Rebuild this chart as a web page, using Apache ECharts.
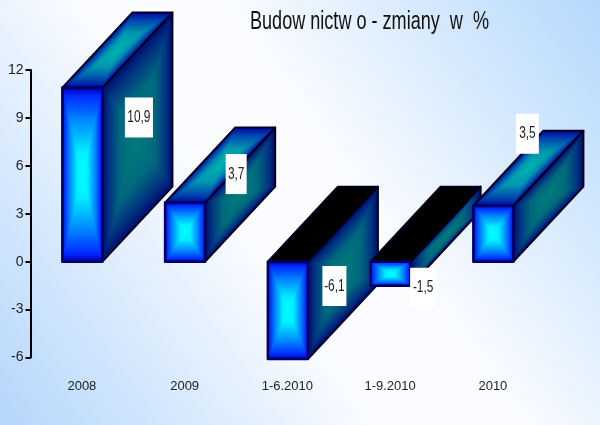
<!DOCTYPE html>
<html><head><meta charset="utf-8">
<style>html,body{margin:0;padding:0;background:#fff}#c{width:600px;height:425px}</style>
<script src="https://cdn.jsdelivr.net/npm/echarts@6/dist/echarts.min.js"></script>
</head><body><div id="c"></div>
<script>
const categories = ['2008','2009','1-6.2010','1-9.2010','2010'];
const values = [10.9,3.7,-6.1,-1.5,3.5];
const yTicks = {min:-6,max:12,interval:3};
const titleText = 'Budow nictw o - zmiany  w  %';

const FONT = '"Liberation Sans",sans-serif';
const DX = 70, DY = 75, STEPS = 44, TEXT_SQUEEZE = 0.7;
const labelOffsets = [[37,30],[31.5,-28.5],[27,-73],[13,2],[14.5,-72]];
const labelPadX = [3.5,3.2,2.5,4,4.5];

const frontStops = [[0,[0,0,175]],[0.08,[0,40,255]],[0.35,[0,130,255]],[0.75,[0,240,255]],[1,[0,255,255]]];
const sideStops  = [[0,[0,15,110]],[0.2,[0,55,130]],[0.5,[0,105,125]],[1,[0,125,125]]];
const topStops   = [[0,[0,10,160]],[0.2,[0,70,175]],[0.55,[0,150,175]],[1,[0,180,175]]];

function ramp(stops,t){
  for(let i=1;i<stops.length;i++){
    if(t<=stops[i][0]){
      const a=stops[i-1],b=stops[i],u=(t-a[0])/(b[0]-a[0]);
      return 'rgb('+a[1].map((c,k)=>Math.round(c+(b[1][k]-c)*u)).join(',')+')';
    }
  }
  return 'rgb('+stops[stops.length-1][1].join(',')+')';
}
function face(pts,stops,stroke,lw){
  const cx=pts.reduce((s,p)=>s+p[0],0)/pts.length, cy=pts.reduce((s,p)=>s+p[1],0)/pts.length;
  const out=[];
  if(stops){
    for(let i=0;i<STEPS;i++){
      const t=i/(STEPS-1), k=1-t*0.98;
      out.push({type:'polygon',silent:true,
        shape:{points:pts.map(p=>[cx+(p[0]-cx)*k,cy+(p[1]-cy)*k])},
        style:{fill:ramp(stops,t)}});
    }
  }else{
    out.push({type:'polygon',silent:true,shape:{points:pts},style:{fill:'#000'}});
  }
  out.push({type:'polygon',silent:true,shape:{points:pts},style:{fill:'none',stroke,lineWidth:lw,lineJoin:'round'}});
  return out;
}
function renderBar(params,api){
  const i=api.value(0), v=api.value(1);
  const a=api.coord([i,0]), b=api.coord([i,v]);
  const w=api.size([1,0])[0]*0.39;
  const L=a[0]-w/2+0.5, R=a[0]+w/2+0.5;
  const top=Math.min(a[1],b[1]), bot=Math.max(a[1],b[1]);
  const children=[].concat(
    face([[R,top],[R+DX,top-DY],[R+DX,bot-DY],[R,bot]],sideStops,'#00001e',2),
    face([[L,top],[L+DX,top-DY],[R+DX,top-DY],[R,top]],v<0?null:topStops,'#00001e',2),
    face([[L,top],[R,top],[R,bot],[L,bot]],frontStops,'#000060',2.5)
  );
  return {type:'group',children};
}
function renderLabel(params,api){
  const i=api.value(0), v=api.value(1);
  const a=api.coord([i,v]);
  const w=api.size([1,0])[0]*0.39;
  const o=labelOffsets[i];
  return {type:'text',z2:100,silent:true,
    x:a[0]+w/2+o[0], y:a[1]+o[1], scaleX:TEXT_SQUEEZE,
    style:{text:String(v).replace('.',','),fontFamily:FONT,fontSize:17,fill:'#222',
      align:'center',verticalAlign:'middle',backgroundColor:'#fff',padding:[11.5,labelPadX[i]]}};
}
const seriesData=values.map((v,i)=>[i,v]);
const chart=echarts.init(document.getElementById('c'),null,{renderer:'canvas',width:600,height:425});
chart.setOption({
  animation:false,
  backgroundColor:new echarts.graphic.LinearGradient(0,1,1,0,[
    {offset:0,color:'#b4d6fb'},{offset:0.42,color:'#fafcff'},{offset:0.58,color:'#fafcff'},{offset:1,color:'#b4d8fc'}]),
  graphic:[{type:'text',x:250,y:22,scaleX:0.695,z:10,
    style:{text:titleText,fontFamily:FONT,fontSize:26,fill:'#111',align:'left',verticalAlign:'middle'}}],
  grid:{left:30.5,top:70,width:513.75,height:287.5,containLabel:false},
  xAxis:{type:'category',data:categories,position:'bottom',
    axisLine:{show:false,onZero:false},axisTick:{show:false},
    axisLabel:{margin:22,interval:0,fontFamily:FONT,fontSize:13,color:'#222'}},
  yAxis:{type:'value',min:yTicks.min,max:yTicks.max,interval:yTicks.interval,
    splitLine:{show:false},
    axisLine:{show:true,lineStyle:{color:'#000',width:2}},
    axisTick:{show:true,length:5,lineStyle:{color:'#000',width:2}},
    axisLabel:{margin:7,fontFamily:FONT,fontSize:14,color:'#222',padding:[5,0,0,0]}},
  series:[
    {type:'custom',name:'Budownictwo',data:seriesData,encode:{x:0,y:1},clip:false,renderItem:renderBar,z:2},
    {type:'custom',name:'Etykiety',data:seriesData,encode:{x:0,y:1},clip:false,renderItem:renderLabel,z:3}
  ]
});
</script></body></html>
